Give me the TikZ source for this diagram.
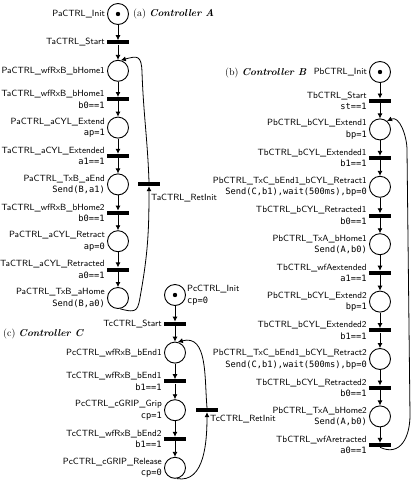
\documentclass[tikz,border=0pt]{standalone}
\usepackage{fontspec}
\setmonofont{DejaVu Sans Mono}
\usetikzlibrary{arrows.meta,positioning}

\newcommand{\act}[1]{{\ttfamily\fontsize{8.7}{11.5}\selectfont #1}}

\tikzset{
  place/.style={circle, draw, line width=0.9pt, minimum size=21pt, inner sep=0pt},
  marked/.style={place, path picture={\fill (path picture bounding box.center) circle (2.2pt);}},
  trans/.style={fill, minimum width=22pt, minimum height=4pt, inner sep=0pt},
  arc/.style={line width=0.8pt, -{Latex[length=5pt,width=5pt]}},
  lbl/.style={inner sep=0pt, align=right, font=\sffamily\fontsize{9}{11.5}\selectfont},
  title/.style={inner sep=0pt, anchor=west, font=\fontsize{10}{12}\selectfont},
}

\begin{document}
\begin{tikzpicture}[x=1pt, y=1pt]
\useasboundingbox (0,-483) rectangle (414,0);

% Controller A: places and transitions
\node[marked] (PaInit) at (118,-14) {};
\node[trans] (TaStart) at (118,-42.4) {};
\node[place] (PaWfB1) at (118,-70.8) {};
\node[trans] (TaWfB1) at (118,-99.2) {};
\node[place] (PaExt) at (118,-127.6) {};
\node[trans] (TaExtd) at (118,-156) {};
\node[place] (PaTxEnd) at (118,-184.4) {};
\node[trans] (TaWfB2) at (118,-212.8) {};
\node[place] (PaRet) at (118,-241.2) {};
\node[trans] (TaRetd) at (118,-269.6) {};
\node[place] (PaTxHome) at (118,-298) {};
\node[trans] (TaRetInit) at (149,-184) {};

% Controller A: labels
\node[title] (titleA) at (133,-14) {(a) \textbf{\textit{Controller A}}};
\node[lbl, left=2pt of PaInit] (PaInitL) {PaCTRL\_Init};
\node[lbl, left=2pt of TaStart] (TaStartL) {TaCTRL\_Start};
\node[lbl, left=2pt of PaWfB1] (PaWfB1L) {PaCTRL\_wfRxB\_bHome1};
\node[lbl, left=2pt of TaWfB1] (TaWfB1L) {TaCTRL\_wfRxB\_bHome1\\\act{b0==1}};
\node[lbl, left=2pt of PaExt] (PaExtL) {PaCTRL\_aCYL\_Extend\\\act{ap=1}};
\node[lbl, left=2pt of TaExtd] (TaExtdL) {TaCTRL\_aCYL\_Extended\\\act{a1==1}};
\node[lbl, left=2pt of PaTxEnd] (PaTxEndL) {PaCTRL\_TxB\_aEnd\\\act{Send(B,a1)}};
\node[lbl, left=2pt of TaWfB2] (TaWfB2L) {TaCTRL\_wfRxB\_bHome2\\\act{b0==1}};
\node[lbl, left=2pt of PaRet] (PaRetL) {PaCTRL\_aCYL\_Retract\\\act{ap=0}};
\node[lbl, left=2pt of TaRetd] (TaRetdL) {TaCTRL\_aCYL\_Retracted\\\act{a0==1}};
\node[lbl, left=2pt of PaTxHome] (PaTxHomeL) {PaCTRL\_TxB\_aHome\\\act{Send(B,a0)}};
\node[lbl, anchor=west] (TaRetInitL) at (151,-198) {TaCTRL\_RetInit};

% Controller A: arcs
\draw[arc] (PaInit) -- (TaStart);
\draw[arc] (TaStart) -- (PaWfB1);
\draw[arc] (PaWfB1) -- (TaWfB1);
\draw[arc] (TaWfB1) -- (PaExt);
\draw[arc] (PaExt) -- (TaExtd);
\draw[arc] (TaExtd) -- (PaTxEnd);
\draw[arc] (PaTxEnd) -- (TaWfB2);
\draw[arc] (TaWfB2) -- (PaRet);
\draw[arc] (PaRet) -- (TaRetd);
\draw[arc] (TaRetd) -- (PaTxHome);
\coordinate (aLoopLo) at (141,-292);
\coordinate (aLoopHi) at (142,-72);
\draw[arc] (PaTxHome.-80) to[out=-15,in=-100,looseness=1.8] (aLoopLo) to[out=80,in=-90] (TaRetInit.south);
\draw[arc] (TaRetInit.north) to[out=92,in=-88] (aLoopHi) to[out=92,in=15,looseness=1.8] (PaWfB1.75);

% Controller B: places and transitions
\node[marked] (PbInit) at (380,-72) {};
\node[trans] (TbStart) at (380,-100.7) {};
\node[place] (PbExt1) at (380,-129.4) {};
\node[trans] (TbExtd1) at (380,-158.1) {};
\node[place] (PbTxC1) at (380,-186.8) {};
\node[trans] (TbRetd1) at (380,-215.5) {};
\node[place] (PbTxA1) at (380,-244.2) {};
\node[trans] (TbWfAext) at (380,-272.9) {};
\node[place] (PbExt2) at (380,-301.6) {};
\node[trans] (TbExtd2) at (380,-330.3) {};
\node[place] (PbTxC2) at (380,-359) {};
\node[trans] (TbRetd2) at (380,-387.7) {};
\node[place] (PbTxA2) at (380,-416.4) {};
\node[trans] (TbWfAret) at (380,-445.1) {};

% Controller B: labels
\node[title] (titleB) at (225,-73) {(b) \textbf{\textit{Controller B}}};
\node[lbl, left=2pt of PbInit] (PbInitL) {PbCTRL\_Init};
\node[lbl, left=2pt of TbStart] (TbStartL) {TbCTRL\_Start\\\act{st==1}};
\node[lbl, left=2pt of PbExt1] (PbExt1L) {PbCTRL\_bCYL\_Extend1\\\act{bp=1}};
\node[lbl, left=2pt of TbExtd1] (TbExtd1L) {TbCTRL\_bCYL\_Extended1\\\act{b1==1}};
\node[lbl, left=2pt of PbTxC1] (PbTxC1L) {PbCTRL\_TxC\_bEnd1\_bCYL\_Retract1\\\act{Send(C,b1),wait(500ms),bp=0}};
\node[lbl, left=2pt of TbRetd1] (TbRetd1L) {TbCTRL\_bCYL\_Retracted1\\\act{b0==1}};
\node[lbl, left=2pt of PbTxA1] (PbTxA1L) {PbCTRL\_TxA\_bHome1\\\act{Send(A,b0)}};
\node[lbl, left=2pt of TbWfAext] (TbWfAextL) {TbCTRL\_wfAextended\\\act{a1==1}};
\node[lbl, left=2pt of PbExt2] (PbExt2L) {PbCTRL\_bCYL\_Extend2\\\act{bp=1}};
\node[lbl, left=2pt of TbExtd2] (TbExtd2L) {TbCTRL\_bCYL\_Extended2\\\act{b1==1}};
\node[lbl, left=2pt of PbTxC2] (PbTxC2L) {PbCTRL\_TxC\_bEnd1\_bCYL\_Retract2\\\act{Send(C,b1),wait(500ms),bp=0}};
\node[lbl, left=2pt of TbRetd2] (TbRetd2L) {TbCTRL\_bCYL\_Retracted2\\\act{b0==1}};
\node[lbl, left=2pt of PbTxA2] (PbTxA2L) {PbCTRL\_TxA\_bHome2\\\act{Send(A,b0)}};
\node[lbl, left=2pt of TbWfAret] (TbWfAretL) {TbCTRL\_wfAretracted\\\act{a0==1}};

% Controller B: arcs
\draw[arc] (PbInit) -- (TbStart);
\draw[arc] (TbStart) -- (PbExt1);
\draw[arc] (PbExt1) -- (TbExtd1);
\draw[arc] (TbExtd1) -- (PbTxC1);
\draw[arc] (PbTxC1) -- (TbRetd1);
\draw[arc] (TbRetd1) -- (PbTxA1);
\draw[arc] (PbTxA1) -- (TbWfAext);
\draw[arc] (TbWfAext) -- (PbExt2);
\draw[arc] (PbExt2) -- (TbExtd2);
\draw[arc] (TbExtd2) -- (PbTxC2);
\draw[arc] (PbTxC2) -- (TbRetd2);
\draw[arc] (TbRetd2) -- (PbTxA2);
\draw[arc] (PbTxA2) -- (TbWfAret);
\coordinate (bLoopLo) at (410,-415);
\coordinate (bLoopHi) at (407,-150);
\draw[arc] (TbWfAret.south) to[out=-25,in=-90,looseness=1.3] (bLoopLo) -- (bLoopHi) to[out=90,in=25] (PbExt1.50);

% Controller C: places and transitions
\node[marked] (PcInit) at (175,-295) {};
\node[trans] (TcStart) at (175,-323.8) {};
\node[place] (PcWfB1) at (175,-352.6) {};
\node[trans] (TcWfB1) at (175,-381.4) {};
\node[place] (PcGrip) at (175,-410.2) {};
\node[trans] (TcWfB2) at (175,-439) {};
\node[place] (PcRel) at (175,-467.8) {};
\node[trans] (TcRetInit) at (207,-410) {};

% Controller C: labels
\node[title] (titleC) at (3,-334) {(c) \textbf{\textit{Controller C}}};
\node[lbl, align=left, right=1pt of PcInit] (PcInitL) {PcCTRL\_Init\\\act{cp=0}};
\node[lbl, left=2pt of TcStart] (TcStartL) {TcCTRL\_Start};
\node[lbl, left=2pt of PcWfB1] (PcWfB1L) {PcCTRL\_wfRxB\_bEnd1};
\node[lbl, left=2pt of TcWfB1] (TcWfB1L) {TcCTRL\_wfRxB\_bEnd1\\\act{b1==1}};
\node[lbl, left=2pt of PcGrip] (PcGripL) {PcCTRL\_cGRIP\_Grip\\\act{cp=1}};
\node[lbl, left=2pt of TcWfB2] (TcWfB2L) {TcCTRL\_wfRxB\_bEnd2\\\act{b1==1}};
\node[lbl, left=2pt of PcRel] (PcRelL) {PcCTRL\_cGRIP\_Release\\\act{cp=0}};
\node[lbl, anchor=west] (TcRetInitL) at (210,-419) {TcCTRL\_RetInit};

% Controller C: arcs
\draw[arc] (PcInit) -- (TcStart);
\draw[arc] (TcStart) -- (PcWfB1);
\draw[arc] (PcWfB1) -- (TcWfB1);
\draw[arc] (TcWfB1) -- (PcGrip);
\draw[arc] (PcGrip) -- (TcWfB2);
\draw[arc] (TcWfB2) -- (PcRel);
\draw[arc] (PcRel.-80) to[out=-10,in=-90] (TcRetInit.south);
\draw[arc] (TcRetInit.north) to[out=95,in=15,looseness=1.1] (PcWfB1.75);

\end{tikzpicture}
\end{document}
